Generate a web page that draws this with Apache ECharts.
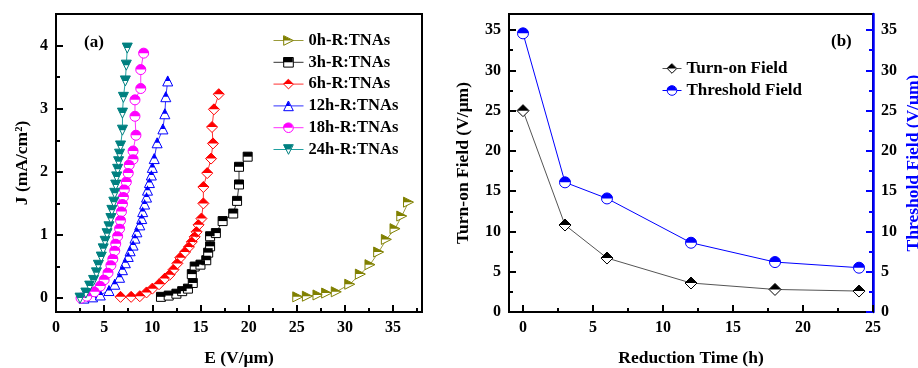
<!DOCTYPE html>
<html>
<head>
<meta charset="utf-8">
<title>J-E curves and threshold fields</title>
<script src="https://cdn.jsdelivr.net/npm/echarts@6.0.0/dist/echarts.min.js"></script>
<style>
html, body { margin: 0; padding: 0; background: #fff; }
#main { width: 918px; height: 368px; }
</style>
</head>
<body>
<div id="main"></div>
<script>
// ---- panel (a): J-E curves ----
var names = ['0h-R:TNAs', '3h-R:TNAs', '6h-R:TNAs', '12h-R:TNAs', '18h-R:TNAs', '24h-R:TNAs'];

var E_0h = [25.1, 26.1, 27.2, 28.1, 29.1, 30.5, 31.6, 32.6, 33.5, 34.3, 35.2, 35.9, 36.6];
var J_0h = [0.02, 0.03, 0.05, 0.08, 0.1, 0.22, 0.38, 0.53, 0.73, 0.93, 1.1, 1.3, 1.52];

var E_3h = [10.9, 11.7, 12.5, 13.1, 13.7, 14.2, 14.1, 14.4, 15.0, 15.6, 15.8, 16.0, 16.0, 16.6, 17.3, 18.4, 18.8, 19.0, 19.0, 19.9];
var J_3h = [0.02, 0.04, 0.07, 0.11, 0.15, 0.24, 0.38, 0.5, 0.53, 0.6, 0.72, 0.82, 0.98, 1.03, 1.22, 1.34, 1.54, 1.8, 2.08, 2.24];

var E_6h = [6.7, 7.8, 8.7, 9.4, 10.0, 10.7, 11.3, 11.8, 12.2, 12.6, 12.9, 13.4, 13.8, 14.1, 14.4, 14.6, 14.8, 15.1, 15.3, 15.3, 15.7, 16.1, 16.3, 16.2, 16.4, 16.9];
var J_6h = [0.02, 0.02, 0.03, 0.09, 0.15, 0.22, 0.31, 0.37, 0.45, 0.55, 0.64, 0.73, 0.81, 0.89, 0.97, 1.05, 1.16, 1.26, 1.5, 1.76, 1.98, 2.21, 2.45, 2.71, 2.99, 3.23];

var E_12h = [2.9, 3.8, 4.6, 5.5, 6.1, 6.6, 6.9, 7.2, 7.5, 7.7, 8.0, 8.2, 8.4, 8.7, 8.9, 9.0, 9.2, 9.4, 9.5, 9.7, 9.9, 10.0, 10.2, 10.5, 11.1, 11.3, 11.4, 11.6];
var J_12h = [0.0, 0.02, 0.05, 0.12, 0.22, 0.33, 0.45, 0.56, 0.66, 0.75, 0.84, 0.95, 1.05, 1.16, 1.26, 1.37, 1.49, 1.6, 1.71, 1.83, 1.95, 2.07, 2.21, 2.46, 2.68, 2.92, 3.19, 3.44];

var E_18h = [2.6, 3.2, 4.0, 4.6, 5.0, 5.4, 5.7, 5.9, 6.1, 6.2, 6.4, 6.6, 6.7, 6.8, 6.9, 7.0, 7.1, 7.3, 7.5, 7.6, 8.0, 8.0, 8.3, 8.2, 8.2, 8.8, 8.8, 9.1];
var J_18h = [0.0, 0.03, 0.1, 0.19, 0.29, 0.4, 0.52, 0.62, 0.75, 0.86, 0.98, 1.1, 1.23, 1.37, 1.49, 1.6, 1.72, 1.84, 1.98, 2.11, 2.2, 2.33, 2.58, 2.88, 3.14, 3.32, 3.62, 3.88];

var E_24h = [2.5, 3.1, 3.5, 3.9, 4.2, 4.4, 4.7, 4.9, 5.1, 5.3, 5.5, 5.7, 5.8, 6.0, 6.1, 6.2, 6.3, 6.4, 6.5, 6.6, 6.7, 6.9, 6.9, 7.0, 7.2, 7.3, 7.4];
var J_24h = [0.0, 0.08, 0.19, 0.28, 0.4, 0.52, 0.65, 0.78, 0.9, 1.02, 1.13, 1.26, 1.39, 1.52, 1.66, 1.79, 1.92, 2.04, 2.16, 2.28, 2.41, 2.66, 2.93, 3.18, 3.44, 3.69, 3.96];

var xTicksA = [0, 5, 10, 15, 20, 25, 30, 35];
var xMinorA = [2.5, 7.5, 12.5, 17.5, 22.5, 27.5, 32.5, 37.5];
var yTicksA = [0, 1, 2, 3, 4];
var yMinorA = [0.5, 1.5, 2.5, 3.5, 4.5];

// ---- panel (b): fields vs reduction time ----
var hours = [0, 3, 6, 12, 18, 24];
var turnOn = [25.0, 10.8, 6.7, 3.6, 2.8, 2.6];
var threshold = [34.6, 16.1, 14.1, 8.6, 6.2, 5.5];

var xTicksB = [0, 5, 10, 15, 20, 25];
var xMinorB = [2.5, 7.5, 12.5, 17.5, 22.5];
var yTicksB = [0, 5, 10, 15, 20, 25, 30, 35];
var yMinorB = [2.5, 7.5, 12.5, 17.5, 22.5, 27.5, 32.5];

var font = 'Liberation Serif';

// hollow marker + a top-half filled marker on top of it
var fullSym = {
  rightTri: 'path://M0 0L10 5L0 10Z',
  square: 'rect',
  diamond: 'diamond',
  upTri: 'triangle',
  circle: 'circle',
  downTri: 'path://M0 0L10 0L5 10Z'
};
var halfSym = {
  rightTri: 'path://M0 0L10 5L0 5Z M0 10L0 10',
  square: 'path://M0 0L10 0L10 5L0 5Z M0 10L0 10',
  diamond: 'path://M5 0L10 5L0 5Z M5 10L5 10',
  upTri: 'path://M5 0L7.5 5L2.5 5Z M0 10L10 10',
  circle: 'path://M0 5A5 5 0 0 1 10 5Z M5 10L5 10',
  downTri: 'path://M0 0L10 0L7.5 5L2.5 5Z M5 10L5 10'
};

function pairs(xs, ys) {
  var out = [];
  for (var i = 0; i < xs.length; i++) out.push([xs[i], ys[i]]);
  return out;
}

function layers(name, color, lineColor, data, shape, size, xi, yi) {
  return [{
    name: name, type: 'line', xAxisIndex: xi, yAxisIndex: yi,
    data: data, symbol: fullSym[shape], symbolSize: size,
    lineStyle: { color: lineColor, width: 1 },
    itemStyle: { color: '#fff', borderColor: color, borderWidth: 1 },
    emphasis: { disabled: true }, silent: true
  }, {
    name: name + '#top', type: 'line', xAxisIndex: xi, yAxisIndex: yi,
    data: data, symbol: halfSym[shape], symbolSize: size,
    lineStyle: { width: 0, opacity: 0 },
    itemStyle: { color: color, borderWidth: 0 },
    emphasis: { disabled: true }, silent: true
  }];
}

function axes(dim, grid, pos, min, max, major, minor, color, lw, name, gap) {
  var nameStyle = { color: color, fontFamily: font, fontWeight: 'bold', fontSize: 17.5 };
  var main = {
    type: 'value', gridIndex: grid, position: pos, min: min, max: max,
    splitLine: { show: false },
    axisLine: { show: true, onZero: false, lineStyle: { color: color, width: lw } },
    axisTick: { show: true, inside: true, length: 7, customValues: major, lineStyle: { color: color, width: 2 } },
    axisLabel: { show: true, customValues: major, color: '#000', fontFamily: font, fontWeight: 'bold', fontSize: 16, margin: 8 },
    name: name, nameLocation: 'middle', nameGap: gap, nameTextStyle: nameStyle
  };
  if (dim === 'y') main.nameRotate = 90;
  var small = {
    type: 'value', gridIndex: grid, position: pos, min: min, max: max,
    splitLine: { show: false },
    axisLine: { show: false, onZero: false },
    axisTick: { show: true, inside: true, length: 4, customValues: minor, lineStyle: { color: color, width: 2 } },
    axisLabel: { show: false }
  };
  return [main, small];
}

var xAxes = [].concat(
  axes('x', 0, 'bottom', 0, 38, xTicksA, xMinorA, '#000', 2, 'E (V/μm)', 37),
  axes('x', 1, 'bottom', -1, 25, xTicksB, xMinorB, '#000', 2, 'Reduction Time (h)', 37)
);
var yAxes = [].concat(
  axes('y', 0, 'left', -0.22, 4.5, yTicksA, yMinorA, '#000', 2, 'J (mA/cm²)', 25),
  axes('y', 1, 'left', 0, 37, yTicksB, yMinorB, '#000', 2, 'Turn-on Field (V/μm)', 37),
  axes('y', 1, 'right', 0, 37, yTicksB, yMinorB, '#0000ff', 2.5, 'Threshold Field (V/μm)', 31)
);

var seriesA = [].concat(
  layers(names[0], '#808000', '#9a9a3a', pairs(E_0h, J_0h), 'rightTri', 10, 0, 0),
  layers(names[1], '#000000', '#333333', pairs(E_3h, J_3h), 'square', 9, 0, 0),
  layers(names[2], '#ff0000', '#ff3030', pairs(E_6h, J_6h), 'diamond', 11, 0, 0),
  layers(names[3], '#0000ff', '#3030ff', pairs(E_12h, J_12h), 'upTri', 10, 0, 0),
  layers(names[4], '#ff00ff', '#ff30ff', pairs(E_18h, J_18h), 'circle', 10, 0, 0),
  layers(names[5], '#008080', '#20a0a0', pairs(E_24h, J_24h), 'downTri', 10, 0, 0)
);
var seriesB = [].concat(
  layers('Turn-on Field', '#000000', '#555555', pairs(hours, turnOn), 'diamond', 12, 2, 2),
  layers('Threshold Field', '#0000ff', '#0000ff', pairs(hours, threshold), 'circle', 11, 2, 4)
);

function legendPair(data, left, top, itemWidth, gap, fontSize) {
  var textStyle = { fontFamily: font, fontWeight: 'bold', fontSize: fontSize, color: '#000' };
  return [{
    data: data, orient: 'vertical', left: left, top: top, padding: 0, itemWidth: itemWidth, itemHeight: 12,
    itemGap: gap, selectedMode: false, textStyle: textStyle,
    itemStyle: { borderWidth: 1 }, lineStyle: { width: 1 }
  }, {
    data: data.map(function (n) { return n + '#top'; }), orient: 'vertical', left: left, top: top, padding: 0,
    itemWidth: itemWidth, itemHeight: 12, itemGap: gap, selectedMode: false, z: 5,
    formatter: function (n) { return n.replace('#top', ''); },
    textStyle: Object.assign({}, textStyle, { color: 'rgba(0,0,0,0)' }),
    itemStyle: { borderWidth: 0 }, lineStyle: { width: 0, opacity: 0 }
  }];
}

var chart = echarts.init(document.getElementById('main'), null, { renderer: 'canvas' });
chart.setOption({
  animation: false,
  backgroundColor: '#fff',
  title: [
    { text: '(a)', left: 79, top: 29, textStyle: { fontFamily: font, fontWeight: 'bold', fontSize: 17, color: '#000' } },
    { text: '(b)', left: 826, top: 28, textStyle: { fontFamily: font, fontWeight: 'bold', fontSize: 17, color: '#000' } }
  ],
  grid: [
    { left: 56, top: 14, width: 366, height: 298, show: true, borderColor: '#000', borderWidth: 2, backgroundColor: 'transparent', outerBoundsMode: 'none' },
    { left: 509, top: 14, width: 364, height: 298, show: true, borderColor: '#000', borderWidth: 2, backgroundColor: 'transparent', outerBoundsMode: 'none' }
  ],
  legend: [].concat(
    legendPair(names, 273, 32, 30, 4.8, 16.5),
    legendPair(['Turn-on Field', 'Threshold Field'], 662, 60, 19, 5, 17)
  ),
  xAxis: xAxes,
  yAxis: yAxes,
  series: seriesA.concat(seriesB)
});
</script>
</body>
</html>
